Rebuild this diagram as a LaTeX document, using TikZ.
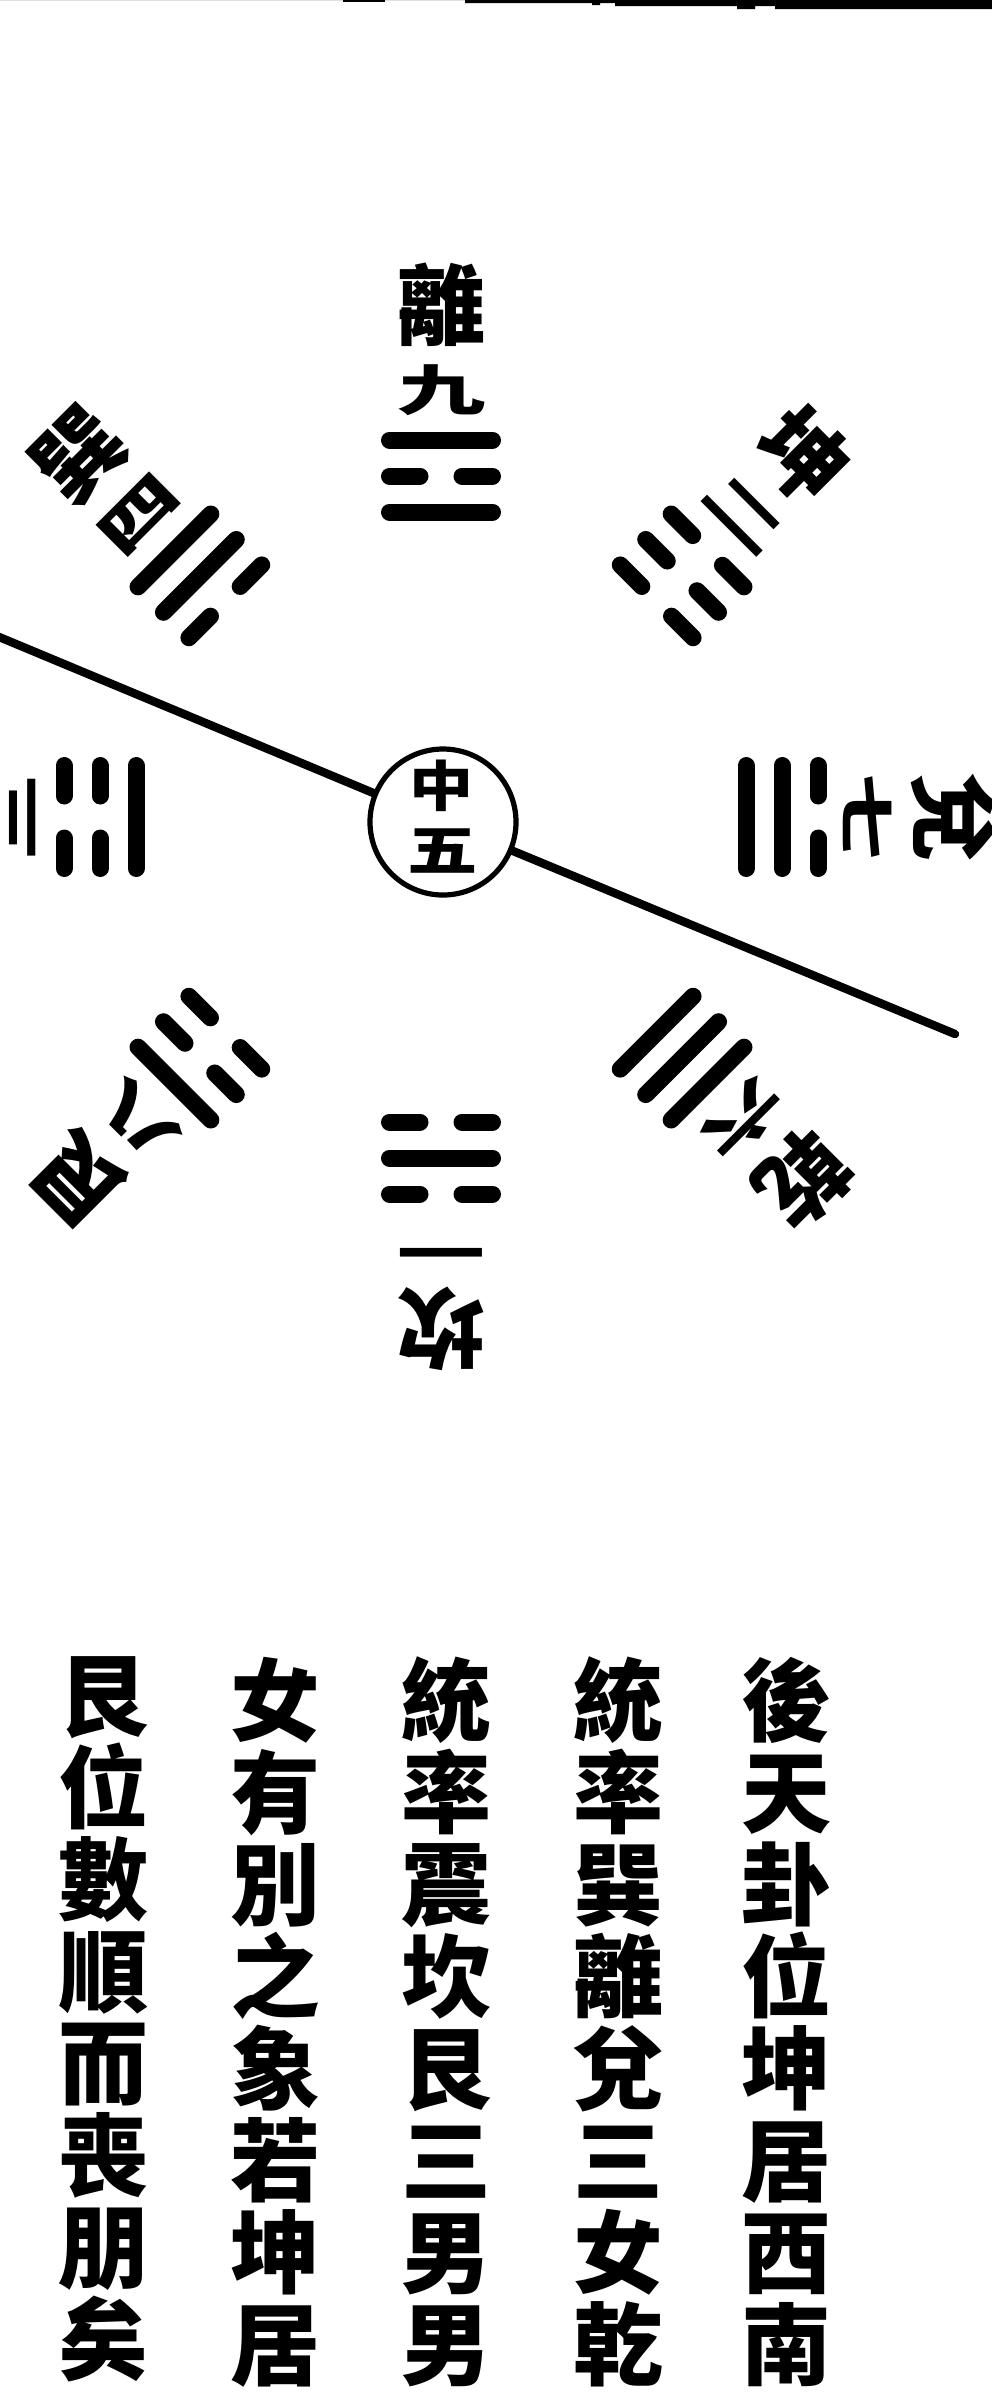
\documentclass[tikz,border=0pt]{standalone}
\usepackage{fontspec}
\usepackage{graphicx}
\newfontfamily\cjk{Noto Sans CJK TC}
\newcommand\yao[2]{%
  \ifnum#1=1
    \draw[bar] (-51.5,-#2) -- (51.5,-#2);
  \else
    \draw[bar] (-51.5,-#2) -- (-21,-#2);
    \draw[bar] (21,-#2) -- (51.5,-#2);
  \fi}
\begin{document}
\begin{tikzpicture}[x=0.25pt,y=-0.25pt,
  bar/.style={line width=4.25pt,line cap=round},
  mainline/.style={line width=2.1pt,line cap=round},
  namech/.style={font=\cjk\bfseries\fontsize{22}{22}\selectfont,inner sep=0pt},
  numch/.style={font=\cjk\bfseries\fontsize{22}{22}\selectfont,inner sep=0pt},
  midch/.style={font=\cjk\bfseries\fontsize{16}{16}\selectfont,inner sep=0pt},
  colstyle/.style={font=\cjk\bfseries\fontsize{22.5}{23}\selectfont,align=center,inner sep=0pt}]
\fill[white] (0,0) rectangle (992,2399);
\useasboundingbox (0,0) rectangle (992,2399);
\clip (0,0) rectangle (992,2399);
% top band
\fill[black!12] (0,0) rectangle (465,1);
\fill[black] (465,0) -- (465,3) -- (592,3) -- (592,5) -- (600,5) -- (600,3) -- (615,3) -- (615,6) -- (737,6) -- (737,9) -- (755,9) -- (755,6) -- (775,6) -- (775,9) -- (992,9) -- (992,0) -- cycle;
\fill[black] (343,0) rectangle (385,2);
% trigrams and labels
\foreach \ang/\nm/\num/\a/\b/\c/\id in {90/離/九/1/0/1/li, 45/坤/二/0/0/0/kun, 0/兌/七/1/1/0/dui, -45/乾/六/1/1/1/qian, -90/坎/一/0/1/0/kan, -135/艮/八/0/0/1/gen, 180/震/三/1/0/0/zhen, 135/巽/四/0/1/1/xun}
{
  \begin{scope}[shift={(441,817)},rotate=\ang-90,transform shape]
    \yao{\a}{305}
    \yao{\b}{341}
    \yao{\c}{377}
    \node[numch] (num-\id) at (0,-427) {\scalebox{1}[0.62]{\num}};
    \node[namech] (nm-\id) at (0,-512) {\nm};
  \end{scope}
}
% centre
\node[draw,circle,line width=1.3pt,minimum size=36.5pt,inner sep=0pt] (ctr) at (443,822) {};
\node[midch] (zh) at (441,786) {\scalebox{1}[0.85]{中}};
\node[midch] (wu) at (443,851) {\scalebox{1.1}[0.85]{五}};
\coordinate (L0) at (-20,629);
\coordinate (R0) at (955,1034);
\draw[mainline] (L0) -- (ctr);
\draw[mainline] (ctr) -- (R0);
% text columns
\node[colstyle,anchor=north] (t1) at (786,1656) {後\\天\\卦\\位\\坤\\居\\西\\南};
\node[colstyle,anchor=north] (t2) at (618,1656) {統\\率\\巽\\離\\兌\\三\\女\\乾};
\node[colstyle,anchor=north] (t3) at (446,1656) {統\\率\\震\\坎\\艮\\三\\男\\男};
\node[colstyle,anchor=north] (t4) at (275,1656) {女\\有\\別\\之\\象\\若\\坤\\居};
\node[colstyle,anchor=north] (t5) at (103,1656) {艮\\位\\數\\順\\而\\喪\\朋\\矣};
\end{tikzpicture}
\end{document}
